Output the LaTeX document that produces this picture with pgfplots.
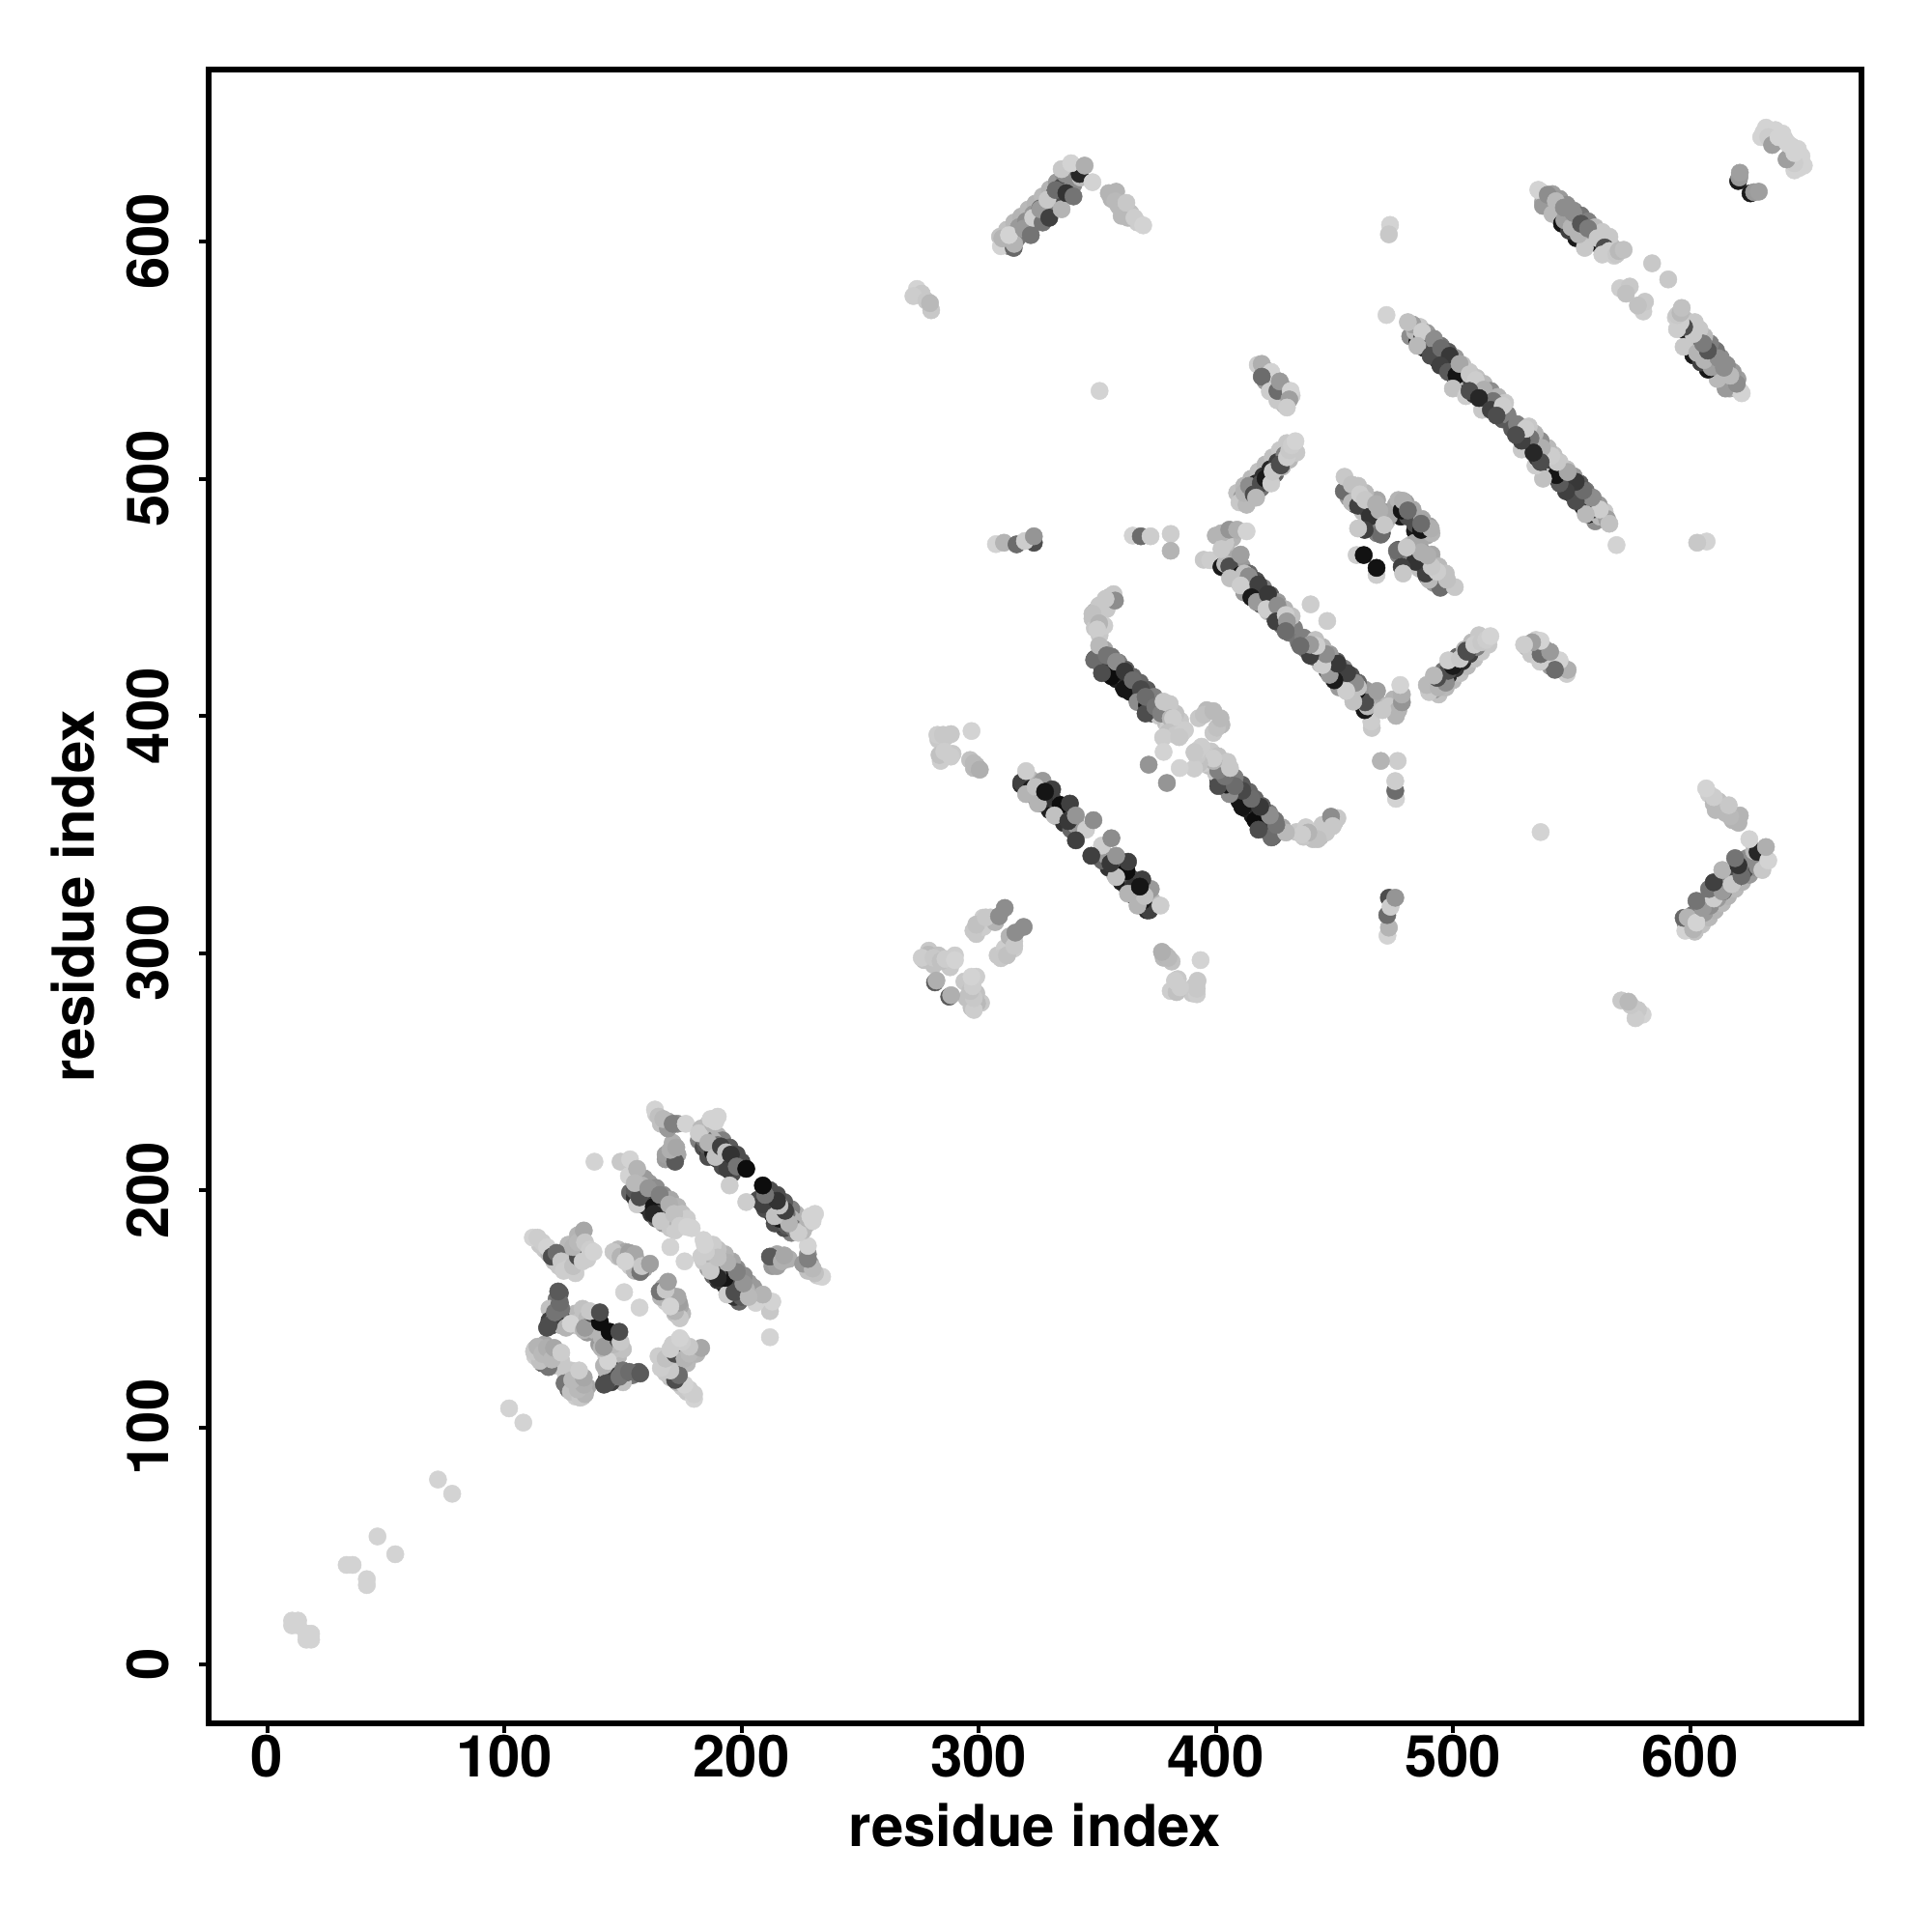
\documentclass[border=0pt]{standalone}
\usepackage{fontspec}
\setmainfont{TeX Gyre Heros}
\usepackage{pgfplots}
\usepackage{pgfplotstable}
\pgfplotsset{compat=1.18}
\pgfplotstableread{
a b g
318 371 .15
321 368.3 .08
324 365.6 .1
327 362.9 .08
330 360.2 .12
333 357.5 .7
336 354.8 .2
339 352.1 .4
320 373 .6
323 370.3 .7
326 367.6 .25
329 364.9 .3
332 362.2 .08
335 359.5 .25
338 356.8 .3
341 354 .6
322 373.2 .72
325 370.5 .55
328 367.8 .35
331 365.1 .3
334 362.4 .3
337 359.7 .4
340 357 .6
349 424 .3
352 421 .1
355 418.5 .08
358 415.5 .1
361 412.5 .12
364 410 .08
367 407 .1
370 404 .15
373 401 .3
351 426 .5
354 423 .3
357 420.5 .25
360 417.5 .3
363 414.5 .15
366 412 .3
369 409 .2
372 406 .3
375 403 .4
353 428 .65
356 425 .45
359 422.5 .5
362 419.5 .35
365 416.5 .4
368 414 .4
371 411 .35
374 408 .5
348 441 .75
349 444 .7
351 442 .78
352 447 .75
354 445 .78
355 450 .75
349 437 .78
351 434 .78
353 438 .8
376 400 .78
378 403 .8
379 397 .75
381 402 .78
383 396 .8
385 398 .78
383 401 .75
387 394 .8
380 395 .8
401 465 .15
404 462 .7
407 459 .1
410 456 .75
413 453 .15
416 450 .7
419 447 .3
422 444 .75
425 441 .4
428 438 .5
431 435 .45
403 467 .7
406 464 .75
409 461 .1
412 458 .78
415 455 .2
418 452 .78
421 449 .25
424 446 .75
427 443 .6
430 440 .7
433 437 .5
405 469 .72
408 466 .65
411 463 .6
414 460 .4
417 457 .3
420 454 .5
423 451 .35
426 448 .6
429 445 .7
432 442 .75
400 476 .7
404 476 .75
407 475 .7
404 473 .78
482 560 .55
485 557.5 .1
488 555 .15
491 552 .2
494 549.5 .12
497 547 .7
500 544 .1
503 541 .75
506 538.5 .15
509 536 .7
512 533 .1
515 530.5 .75
518 528 .2
521 525 .35
484 562 .72
487 559.5 .7
490 557 .3
493 554 .3
496 551.5 .25
499 549 .5
502 546 .7
505 543 .75
508 540.5 .25
511 538 .7
514 535 .3
517 532.5 .6
520 530 .75
523 527 .5
486 564 .78
489 561.5 .6
492 559 .55
495 556 .45
498 553.5 .35
501 551 .6
504 548 .75
507 545 .78
510 542.5 .75
513 540 .72
516 537 .55
519 534.5 .7
522 532 .78
538 616.7 .65
541 614.4 .7
544 612 .75
547 609.8 .1
550 607.5 .2
553 605 .08
556 603 .72
559 600.7 .75
562 598.4 .1
565 596 .78
568 594 .8
537 621 .78
540 618.7 .6
543 616.4 .65
546 614 .5
549 611.8 .55
552 609.5 .3
555 607 .35
558 605 .45
561 602.7 .72
564 600.4 .78
567 598 .75
570 596 .72
542 620 .62
545 618 .6
548 615.5 .55
551 613 .55
554 611 .45
557 608.5 .5
560 606 .72
563 604 .78
566 602 .78
309 602 .75
312 605 .75
315 608 .72
318 610.5 .7
321 613.5 .72
324 616 .7
327 619 .72
330 622 .7
333 625 .6
336 628 .55
339 631 .7
311 600 .72
314 603 .6
317 606 .6
320 608.5 .55
323 611.5 .6
326 614 .42
329 617 .55
332 620 .3
335 623 .3
338 626 .3
341 629 .3
343 631 .55
313 598 .55
316 601 .45
319 604 .5
322 606.5 .45
325 609.5 .5
328 612 .55
331 615 .5
334 618 .3
337 621 .45
340 624 .55
343 627 .72
356 618 .7
359 615 .72
358 621 .7
361 613 .75
364 612 .75
367 608 .8
363 610 .72
409 494 .75
412 497 .72
415 500 .72
418 503 .75
421 506 .72
424 509 .75
427 512 .78
430 515 .78
411 492 .6
414 495 .3
417 498 .15
420 501 .2
423 504 .15
426 507 .25
429 510 .5
432 513 .7
413 490 .72
416 493 .6
419 496 .45
422 499 .72
425 502 .4
428 505 .72
431 508 .72
434 511 .78
421 546 .75
424 543 .72
428 539 .7
421 541 .6
424 539 .8
429 535 .75
432 535 .8
429 531 .72
426 533 .78
456 492 .6
459 489 .3
462 486 .75
464 487 .3
467 482 .25
466 479 .6
468 477 .5
470 484 .7
472 482 .75
468 491 .65
471 486 .6
463 494 .72
460 497 .75
476 489 .65
477 491 .7
480 490 .62
478 484 .1
481 484 .3
483 487 .65
470 477 .3
471 481 .6
473 484 .65
182 221 .5
184 218 .3
186 216 .2
190 213 .1
192 210 .3
196 207 .3
186 228 .75
188 225 .75
190 223 .7
192 221 .5
195 218 .35
198 215 .3
200 212 .3
184 226 .72
186 223 .68
188 221 .7
190 219 .45
192 216 .3
153 199 .4
155 197 .2
158 194 .3
160 193 .1
162 190 .2
164 188 .4
167 186 .6
170 184 .78
172 183 .8
159 205 .6
161 203 .6
164 201 .55
167 198 .55
170 196 .65
173 193 .7
175 190 .75
177 188 .8
158 202 .7
160 198 .4
162 196 .25
164 194 .3
168 192 .6
170 189 .7
115 177 .78
117 175 .78
119 173 .7
121 170 .75
123 168 .78
126 170 .78
128 172 .7
130 174 .72
132 176 .75
135 171 .8
130 165 .8
127 177 .72
131 181 .7
148 175 .72
151 174 .65
154 171 .6
156 170 .7
159 167 .65
148 172 .75
153 168 .8
155 166 .7
120 143 .3
121 150 .5
120 147 .45
122 154 .45
125 148 .72
124 143 .7
127 146 .75
130 143 .78
130 148 .72
132 145 .75
133 150 .75
135 140 .6
138 145 .1
138 141 .7
119 150 .75
113 133 .75
115 132 .7
117 135 .65
120 132 .65
122 126 .78
124 128 .78
168 213 .6
170 214 .62
173 215 .65
171 220 .68
164 232 .8
166 228 .75
169 229 .65
169 226 .6
173 228 .55
285 383 .78
283 390 .78
286 391 .78
298 378 .72
284 381 .8
289 384 .78
299 379 .7
299 308 .78
300 312 .78
302 311 .8
305 315 .78
307 313 .7
277 297 .75
279 301 .78
283 299 .75
281 295 .75
287 296 .8
290 299 .8
288 294 .78
632 648 .82
636 647 .82
630 644 .82
636 642 .65
640 643 .8
}\under
\pgfplotstableread{
a b g
10.5 16.5 .82
10.5 18.5 .82
13 18.5 .82
13 16.5 .82
33.5 42 .82
36 42 .82
46.5 54 .82
72 78 .82
102 108 .82
163.5 234 .82
165 231 .75
167 230 .72
171 228 .5
176.5 228 .82
168 215 .62
172 212 .35
170 217 .68
172.5 218 .65
186 214 .3
185 219 .35
184 222 .45
188 216 .1
194 209 .25
195 202 .8
183 226 .72
182 224 .8
186 220 .7
188 228 .7
187 230 .82
189 229 .82
190 231 .82
189 214 .75
191.3 218.4 .25
193.5 216 .75
195.5 215 .2
198 210 .45
202 209 .05
156 194 .8
155 200 .35
157 197 .3
163 193 .08
165 190 .3
163 190 .15
149 212 .78
153 213 .82
152.5 206 .82
156 209 .7
155 203 .72
160.7 200.8 .58
165.5 198 .5
169.5 194 .68
166 187 .78
171.6 190 .75
174 185 .8
177 184.5 .82
179 184 .82
170 176 .82
150.5 157 .82
138 212 .82
146 174 .78
149 172 .7
152.6 173.6 .62
155 173 .65
157.3 165.5 .45
158 168 .78
161.4 169 .62
151 170 .82
112 180 .82
114 180 .8
116 178 .8
118 176 .82
120 172 .3
122 173.6 .42
124 170 .78
125 166 .8
127 167 .8
129 168 .75
131 172 .3
129 176 .7
131 178 .72
133.5 183 .65
134 178 .78
133 170 .8
136 175 .8
137.6 174 .82
118 142 .3
119 145 .25
121 145 .7
122 148 .75
124 146 .25
123 151 .4
124 150 .45
123.4 156.6 .35
126 142 .7
128 143.7 .82
133.5 141 .7
135 146 .72
134 142 .6
137 148 .3
140.3 144.4 .05
136 149 .78
140.3 148.5 .3
118.6 143 .3
121.3 148.5 .45
123.4 152.6 .42
122.7 157.3 .35
116 127 .4
119 129 .35
117 128 .5
118.6 125.4 .45
113 130 .8
115 128 .75
112.5 132 .78
114 134 .7
116 131 .72
118 133.5 .68
120 128.6 .72
121 133.5 .65
124 131.5 .8
309.4 598 .82
314.8 597.3 .4
315 599 .7
310 601.3 .7
312.8 602.7 .82
319 605.4 .6
322 602.7 .45
323 610 .8
327 608 .45
326 613.6 .6
329.8 610 .25
329 617.6 .78
335 613.6 .7
332.5 621.7 .42
337 620.4 .2
340 619 .45
336.5 628.5 .55
342.6 628.5 .15
335 630.5 .78
339 633 .82
344.7 632 .68
348 625 .82
354.9 620.4 .7
357.6 617 .72
360.3 610.8 .72
362.3 616.3 .78
365.7 610 .8
369.4 606.8 .82
274 580 .82
276 578 .78
272.5 577 .8
278 575 .78
280 571 .78
279.5 574 .72
473.5 607 .82
473 603 .78
472 569 .82
538 615 .6
542 611.6 .72
546 607.5 .08
552 601.4 .1
555.6 597.3 .78
549 604.6 .25
547 609 .62
553 603 .7
550 606 .7
536 621.8 .82
540 619.7 .55
543.4 617 .72
546.8 614.3 .55
550.8 612 .55
554 607.5 .33
557 605.5 .48
561 601.4 .78
564 597.5 .3
563 594.5 .8
566 596 .8
569 594.6 .78
569.9 596 .72
572 596.5 .75
584 590.8 .78
570.5 580.3 .8
574.6 581 .78
573 578 .75
620.3 625.5 .1
620.8 627 .6
621 629 .62
631 646 .82
633 644 .8
634.6 640.7 .62
637.3 644 .82
639 645.5 .82
641 641.5 .82
417.7 548 .8
419.4 548.4 .68
423.4 545 .82
419.4 543 .42
422.8 536.8 .8
426 537 .42
427 541 .6
431.6 537 .82
431 533.4 .62
430 530 .8
410 490 .78
413 489 .72
412 494 .7
414 497 .55
416 493.4 .3
419 498 .3
417 492 .72
421 500 .1
423.4 498 .8
424 503 .78
427 506 .3
427.5 505.6 .3
430 509 .8
431 512 .78
432 514 .8
433.6 515.8 .82
351 537 .82
307.3 472.4 .82
310.7 473 .7
316 472.3 .42
323.3 473 .3
319.5 473.7 .8
323.3 475.7 .58
365 476 .82
368.4 475.7 .42
372.5 475.7 .8
381 476.7 .8
381 469.6 .7
394.9 465.8 .78
397.6 465.6 .8
402.4 477 .7
405.7 478.5 .58
409 478.5 .68
413 477.8 .82
402.4 462.8 .1
404 464 .72
402.4 470.3 .78
405.7 463 .3
410.5 468 .62
410.5 459.4 .08
412 460 .75
413.9 458.8 .55
406 458 .75
412 452 .6
410.5 455 .8
418 455.4 .25
415 450 .1
417.3 448 .6
422 451.3 .22
421.4 445 .8
426 446.5 .55
425.4 439.8 .25
429.5 442.5 .8
430 439.8 .6
429.5 435.7 .42
440 447 .8
356.9 451.3 .78
357.5 448.6 .55
353.5 449.3 .78
350.8 446.5 .78
348 443 .75
350.8 439 .7
350 436.4 .8
348.7 423.5 .42
350.8 429.6 .72
356 416.7 .05
354 425.5 .45
358 422.8 .55
352 418 .3
361.6 418.7 .22
361.6 411.2 .08
365 415 .42
368.4 411.2 .28
367 405.8 .55
371 404.4 .1
370.4 401 .3
370.4 408 .42
374.5 403.8 .45
377 401 .5
378 406 .78
380.6 405 .78
381 399 .7
382 399 .8
380 393 .75
383 392 .78
385.4 392.2 .8
377.8 390.9 .8
396.2 402.4 .72
392.8 399 .78
395 400.5 .75
399 402 .72
378 384.8 .82
371.7 379.4 .58
384.6 391 .78
282.6 392 .8
285 392 .78
288.3 392.3 .78
297 393.6 .82
283.5 383.5 .75
285.5 385 .8
288.3 382.8 .8
296.4 381.4 .75
298 380 .72
300.5 377.3 .68
318 372 .25
320 376.7 .8
322 369 .1
320 367 .7
327 372.6 .6
324 370 .75
331 369 .25
327.7 365 .2
325 363 .7
328 368 .08
334.5 362.4 .05
338.5 363 .25
332 358 .75
337.8 355.6 .22
341 358 .58
345.3 352 .8
348.4 356 .55
341 347.5 .25
278.8 299.3 .72
276 298 .8
281 298 .78
284 296.5 .75
286 297.5 .8
290 297 .82
281.6 287.6 .35
282.2 288.4 .68
297.8 309.4 .78
301.9 314.9 .8
299 312 .75
303 315 .78
308.6 315.5 .55
311 319 .55
483 565 .62
481 566 .75
487 559 .2
487 562 .8
492 558.5 .55
485 556 .72
490.6 551.8 .3
495 555 .42
498.7 551.8 .22
494.7 547.7 .25
498 545 .35
501.5 543.6 .08
502.8 548.4 .65
500 538 .75
507 544 .78
505.5 534.8 .8
509 535.5 .2
509.6 541.6 .8
513 537.5 .68
507 537 .3
512.3 529 .78
517 532.7 .45
511 534 .15
516 529 .25
521 530.7 .8
518.4 526.6 .3
454 494.7 .42
454.3 500.8 .78
457.4 497.5 .75
457.4 490 .72
460 488.6 .25
460.8 493.4 .8
463 491 .78
465 484 .2
467.6 489.3 .68
469 486.6 .68
469.6 476.4 .42
471 480.5 .78
462.8 478.4 .25
460 479 .78
478.4 486.6 .08
479 490.7 .68
481 486.6 .42
459.4 467.8 .8
462.4 467.8 .07
}\upper
\begin{document}
\begin{tikzpicture}
\useasboundingbox (-21.6mm,-21.6mm) rectangle (178.4mm,178.4mm);
\begin{axis}[
  at={(0,0)},anchor=south west,
  scale only axis,width=171.1mm,height=171.2mm,
  xmin=-24.7,xmax=672.3,ymin=-24.8,ymax=672.5,
  axis line style={line width=0.6mm},
  axis on top,
  tick style={line width=0.4mm,black},
  tick align=outside,
  major tick length=1mm,
  xtick={0,100,...,600},ytick={0,100,...,600},
  xtick pos=bottom,ytick pos=left,
  /pgf/number format/assume math mode=true,
  tick label style={font=\bfseries\fontsize{17.05}{20}\selectfont},
  label style={font=\bfseries\fontsize{17.05}{20}\selectfont},
  xticklabel style={yshift=1mm},
  yticklabel style={rotate=90,anchor=south,yshift=1.9mm},
  xlabel={residue index},ylabel={residue index},
  xlabel style={yshift=-0.2mm},
  ylabel style={yshift=0.8mm},
  colormap={bw}{gray(0cm)=(0); gray(1cm)=(1)},
  point meta min=0,point meta max=1,
  scatter/use mapped color={draw=mapped color,fill=mapped color},
]
\addplot[scatter,only marks,mark=*,mark size=0.9mm,line width=0.05mm,scatter src=explicit] table[x=a,y=b,meta=g]{\under};
\addplot[scatter,only marks,mark=*,mark size=0.9mm,line width=0.05mm,scatter src=explicit] table[x=b,y=a,meta=g]{\under};
\addplot[scatter,only marks,mark=*,mark size=0.9mm,line width=0.05mm,scatter src=explicit] table[x=a,y=b,meta=g]{\upper};
\addplot[scatter,only marks,mark=*,mark size=0.9mm,line width=0.05mm,scatter src=explicit] table[x=b,y=a,meta=g]{\upper};
\end{axis}
\end{tikzpicture}
\end{document}
